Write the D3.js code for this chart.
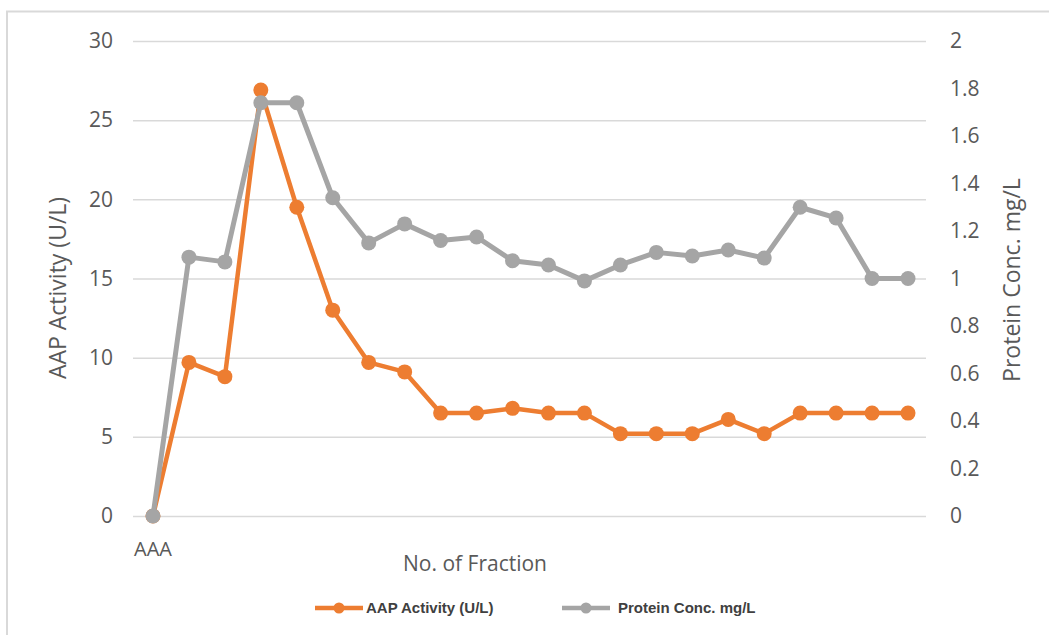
<!DOCTYPE html>
<html>
<head>
<meta charset="utf-8">
<script src="https://cdn.jsdelivr.net/npm/d3@7"></script>
<style>
  body { margin: 0; background: #fff; }
  svg { display: block; }
</style>
</head>
<body>
<script>
// fraction labels, only the first one is named on the chart
const fractionLabels = ["AAA", "", "", "", "", "", "", "", "", "", "", "",
                        "", "", "", "", "", "", "", "", "", ""]
// AAP Activity (U/L), left axis
const aapActivity = [0, 9.7, 8.8, 26.9, 19.5, 13.0, 9.7, 9.1, 6.5, 6.5, 6.8,
                     6.5, 6.5, 5.2, 5.2, 5.2, 6.1, 5.2, 6.5, 6.5, 6.5, 6.5]
// Protein Conc. mg/L, right axis
const proteinConc = [0, 1.09, 1.07, 1.74, 1.74, 1.34, 1.15, 1.23, 1.16, 1.175, 1.075,
                     1.057, 0.99, 1.057, 1.11, 1.095, 1.12, 1.086, 1.30, 1.255, 1.0, 1.0]
const leftTicks = [0, 5, 10, 15, 20, 25, 30]
const rightTicks = [0, 0.2, 0.4, 0.6, 0.8, 1, 1.2, 1.4, 1.6, 1.8, 2]

const W = 1049, H = 635
const pLeft = 133, pRight = 926, pTop = 41, pBottom = 516
const orange = "#ED7D31", grey = "#A5A5A5"
const font = "'Open Sans', sans-serif"

const svg = d3.select("body").append("svg")
    .attr("width", W)
    .attr("height", H)

svg.append("rect").attr("width", W).attr("height", H).attr("fill", "#fff")

// outer frame (only top and left are visible)
svg.append("path")
    .attr("d", `M7,${H} L7,11.5 L${W},11.5`)
    .attr("fill", "none")
    .attr("stroke", "#d9d9d9")
    .attr("stroke-width", 2)

const idx = fractionLabels.map((d, i) => i)
const x = d3.scaleBand().domain(idx).range([135, pRight])
const cx = i => x(i) + x.bandwidth() / 2

const yL = d3.scaleLinear().domain([0, 30]).range([pBottom, pTop])
const yR = d3.scaleLinear().domain([0, 2]).range([pBottom, pTop])

// grid
svg.append("g")
    .attr("transform", `translate(${pLeft},0)`)
    .call(d3.axisLeft(yL).tickValues(leftTicks).tickSize(-(pRight - pLeft)).tickFormat(""))
    .call(g => g.select(".domain").remove())
    .call(g => g.selectAll("line").attr("stroke", "#d9d9d9").attr("stroke-width", 1.5))

// left axis labels
svg.append("g")
    .attr("transform", `translate(${pLeft},0)`)
    .call(d3.axisLeft(yL).tickValues(leftTicks).tickSize(0).tickPadding(20))
    .call(g => g.select(".domain").remove())
    .call(g => g.selectAll("text").attr("font-family", font).attr("font-size", 21).attr("fill", "#595959"))

// right axis labels
svg.append("g")
    .attr("transform", `translate(${pRight},0)`)
    .call(d3.axisRight(yR).tickValues(rightTicks).tickSize(0).tickPadding(24).tickFormat(d => d3.format("~g")(d)))
    .call(g => g.select(".domain").remove())
    .call(g => g.selectAll("text").attr("font-family", font).attr("font-size", 21).attr("fill", "#595959"))

// bottom axis
svg.append("g")
    .attr("transform", `translate(0,${pBottom})`)
    .call(d3.axisBottom(x).tickSize(0).tickPadding(26).tickFormat(i => fractionLabels[i]))
    .call(g => g.select(".domain").remove())
    .call(g => g.selectAll("text").attr("font-family", font).attr("font-size", 20).attr("fill", "#595959"))

// axis titles
svg.append("text")
    .attr("transform", "translate(58,288) rotate(-90)")
    .attr("dy", "0.35em")
    .attr("text-anchor", "middle")
    .attr("font-family", font).attr("font-size", 23).attr("fill", "#595959")
    .text("AAP Activity (U/L)")

svg.append("text")
    .attr("transform", "translate(1012,280) rotate(-90)")
    .attr("dy", "0.35em")
    .attr("text-anchor", "middle")
    .attr("font-family", font).attr("font-size", 23).attr("fill", "#595959")
    .text("Protein Conc. mg/L")

svg.append("text")
    .attr("x", 475).attr("y", 571)
    .attr("text-anchor", "middle")
    .attr("font-family", font).attr("font-size", 21).attr("fill", "#595959")
    .text("No. of Fraction")

// series
function drawSeries(values, yScale, color, width) {
    const line = d3.line().x((d, i) => cx(i)).y(d => yScale(d))
    svg.append("path")
        .datum(values)
        .attr("d", line)
        .attr("fill", "none")
        .attr("stroke", color)
        .attr("stroke-width", width)
        .attr("stroke-linejoin", "round")
    svg.append("g").selectAll("circle")
        .data(values)
        .join("circle")
        .attr("cx", (d, i) => cx(i))
        .attr("cy", d => yScale(d))
        .attr("r", 7.5)
        .attr("fill", color)
}
drawSeries(aapActivity, yL, orange, 4.5)
drawSeries(proteinConc, yR, grey, 5)

// legend
const legend = [
    { name: "AAP Activity (U/L)", color: orange, x: 315 },
    { name: "Protein Conc. mg/L", color: grey, x: 562 }
]
const lg = svg.append("g").selectAll("g").data(legend).join("g")
    .attr("transform", d => `translate(${d.x},608)`)
lg.append("line").attr("x1", 0).attr("x2", 48)
    .attr("stroke", d => d.color).attr("stroke-width", 4.5)
lg.append("circle").attr("cx", 24).attr("r", 5.5).attr("fill", d => d.color)
lg.append("text")
    .attr("x", d => d.color === orange ? 51 : 56)
    .attr("y", 5)
    .attr("font-family", "'Liberation Sans', Arial, sans-serif")
    .attr("font-weight", "bold")
    .attr("font-size", 15)
    .attr("fill", "#404040")
    .text(d => d.name)
</script>
</body>
</html>
